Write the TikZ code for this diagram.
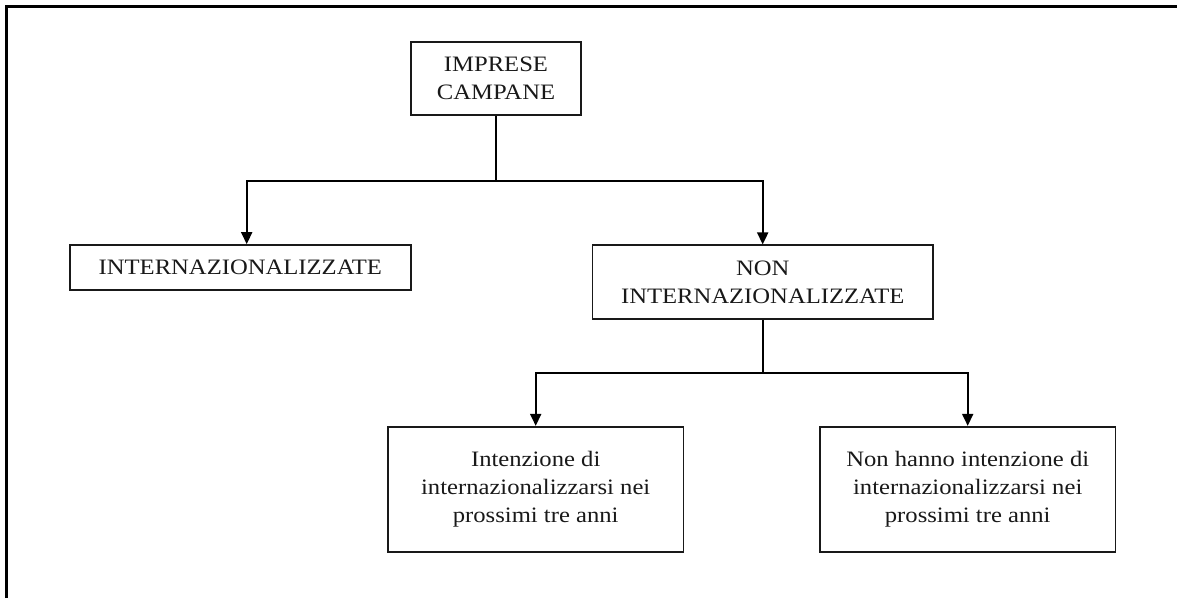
\documentclass[tikz,border=0pt]{standalone}
\usepackage{fontspec}
\setmainfont{Liberation Serif}[FakeStretch=1.12]
\usetikzlibrary{arrows.meta}
\begin{document}
\begin{tikzpicture}[x=1pt,y=-1pt,
  box/.style={draw=black!90,line width=1.7pt,inner sep=0pt,align=center,
    font=\fontsize{22}{28}\selectfont,text=black!90},
  conn/.style={line width=1.9pt},
  arr/.style={conn,-{Triangle[length=12pt,width=11pt]}}]
\useasboundingbox (0,0) rectangle (1177,598);
\fill[white] (0,0) rectangle (1177,598);
\draw[line width=2.6pt] (6.5,598) -- (6.5,6.5) -- (1177,6.5);

\node[box,minimum width=170.3pt,minimum height=73.3pt] (top) at (496,78.4) {IMPRESE\\CAMPANE};
\node[box,minimum width=340.7pt,minimum height=45pt] (intl) at (240.3,267.5) {INTERNAZIONALIZZATE};
\node[box,minimum width=340.7pt,minimum height=74pt] (non) at (762.7,282.3) {NON\\INTERNAZIONALIZZATE};
\node[box,minimum width=295.3pt,minimum height=125pt] (a) at (535.7,489.2) {Intenzione di\\internazionalizzarsi nei\\prossimi tre anni};
\node[box,minimum width=295.3pt,minimum height=125pt] (b) at (967.7,489.2) {Non hanno intenzione di\\internazionalizzarsi nei\\prossimi tre anni};

\coordinate (j1) at (496,181);
\coordinate (j2) at (762.7,373.3);
\draw[conn] (top.south) -- (j1);
\draw[arr] (j1) -| ([xshift=6.4pt]intl.north);
\draw[arr] (j1) -| (non.north);
\draw[conn] (non.south) -- (j2);
\draw[arr] (j2) -| (a.north);
\draw[arr] (j2) -| (b.north);
\end{tikzpicture}
\end{document}
